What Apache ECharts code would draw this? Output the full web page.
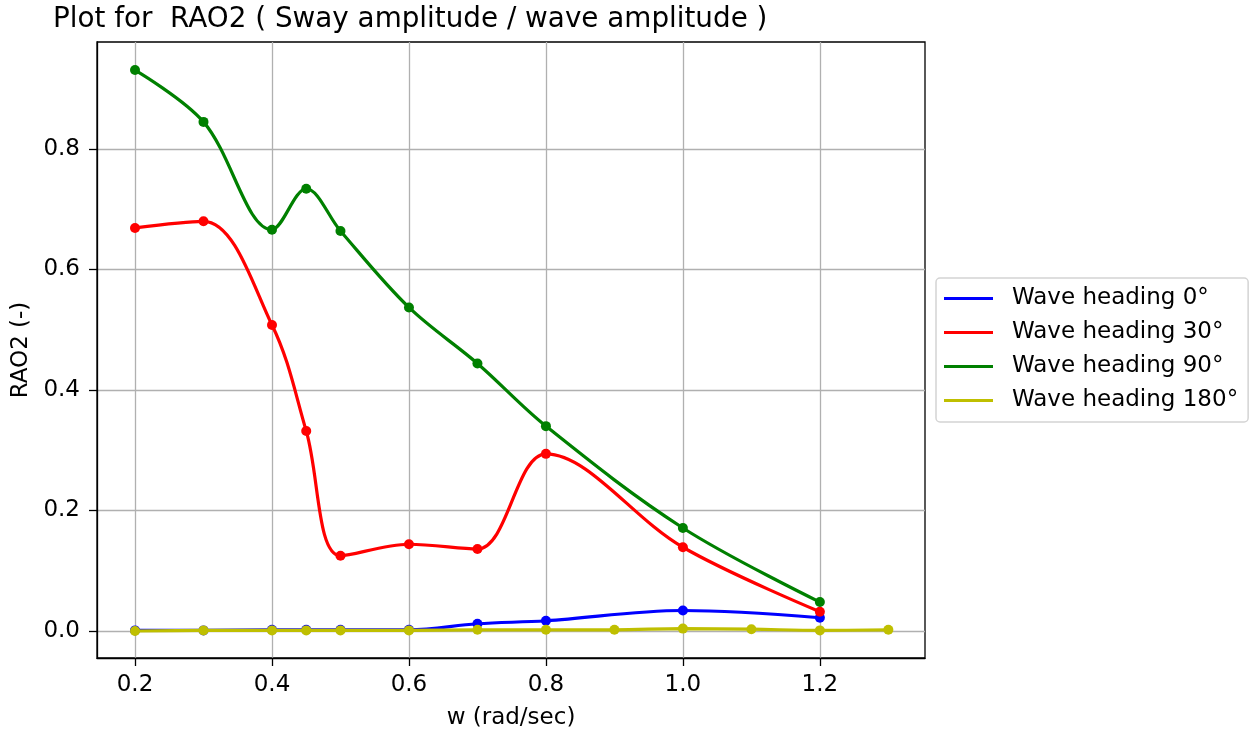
<!DOCTYPE html>
<html><head><meta charset="utf-8">
<script src="https://cdn.jsdelivr.net/npm/echarts@6/dist/echarts.min.js"></script>
<style>html,body{margin:0;padding:0;background:#fff}#c{width:1256px;height:735px}</style>
</head><body><div id="c"></div>
<script>
const wBlue = [0.2,0.3,0.4,0.45,0.5,0.6,0.7,0.8,1.0,1.2];
const rao0 = [0.001,0.001,0.002,0.002,0.002,0.002,0.012,0.017,0.034,0.022];
const wRed = [0.2,0.3,0.4,0.45,0.5,0.6,0.7,0.8,1.0,1.2];
const rao30 = [0.669,0.680,0.508,0.332,0.125,0.144,0.136,0.294,0.139,0.032];
const wGreen = [0.2,0.3,0.4,0.45,0.5,0.6,0.7,0.8,1.0,1.2];
const rao90 = [0.931,0.845,0.666,0.734,0.664,0.537,0.444,0.340,0.171,0.048];
const wYellow = [0.2,0.3,0.4,0.45,0.5,0.6,0.7,0.8,0.9,1.0,1.1,1.2,1.3];
const rao180 = [0.000,0.001,0.001,0.001,0.001,0.001,0.002,0.002,0.002,0.004,0.003,0.001,0.002];
const xTicks = [0.2,0.4,0.6,0.8,1.0,1.2];
const yTicks = [0.0,0.2,0.4,0.6,0.8];
const names = ['Wave heading 0°','Wave heading 30°','Wave heading 90°','Wave heading 180°'];
const colors = ['#0000ff','#ff0000','#008000','#bfbf00'];
const xs = [wBlue,wRed,wGreen,wYellow];
const ys = [rao0,rao30,rao90,rao180];

const font = 'DejaVu Sans';
const chart = echarts.init(document.getElementById('c'), null, {renderer:'canvas'});
chart.setOption({
  animation:false,
  backgroundColor:'#fff',
  title:{text:'Plot for  RAO2 ( Sway amplitude / wave amplitude )', left:48, top:1,
    textStyle:{fontFamily:font,fontSize:27.8,fontWeight:'normal',color:'#000'}},
  grid:{left:97,right:331,top:42,bottom:77,show:true,borderColor:'#000',borderWidth:1.3,backgroundColor:'transparent'},
  legend:{orient:'vertical',left:936,top:278,itemWidth:49,itemHeight:3,itemGap:11,icon:'rect',
    padding:[9,10,10,8],backgroundColor:'#fff',borderColor:'#d4d4d4',borderWidth:1.5,borderRadius:4,
    textStyle:{fontFamily:font,fontSize:23,lineHeight:23,color:'#000',padding:[0,0,0,14]},
    data:names},
  xAxis:{type:'value',min:0.1445,max:1.3535,name:'w (rad/sec)',nameLocation:'middle',nameGap:49,
    nameTextStyle:{fontFamily:font,fontSize:23,color:'#000'},
    axisLine:{show:true,onZero:false,lineStyle:{color:'#000',width:1.3}},
    axisTick:{show:true,inside:false,length:8,customValues:xTicks,lineStyle:{color:'#000',width:1.3}},
    axisLabel:{customValues:xTicks,fontFamily:font,fontSize:23,color:'#000',margin:16,formatter:v=>v.toFixed(1)},
    splitLine:{show:true,lineStyle:{color:'#b0b0b0',width:1.3}}},
  yAxis:{type:'value',min:-0.0448,max:0.9776,name:'RAO2 (-)',nameLocation:'middle',nameGap:62,nameRotate:90,
    nameTextStyle:{fontFamily:font,fontSize:23,color:'#000'},
    axisLine:{show:true,onZero:false,lineStyle:{color:'#000',width:1.3}},
    axisTick:{show:true,inside:false,length:8,customValues:yTicks,lineStyle:{color:'#000',width:1.3}},
    axisLabel:{customValues:yTicks,fontFamily:font,fontSize:23,color:'#000',margin:17,formatter:v=>v.toFixed(1)},
    splitLine:{show:true,lineStyle:{color:'#b0b0b0',width:1.3}}},
  series: names.map((n,i)=>({
    name:n,type:'line',smooth:0.35,symbol:'circle',symbolSize:10,showSymbol:true,
    itemStyle:{color:colors[i]},lineStyle:{color:colors[i],width:3.2},
    data: xs[i].map((x,j)=>[x,ys[i][j]]), z:2+i
  }))
});
</script></body></html>
